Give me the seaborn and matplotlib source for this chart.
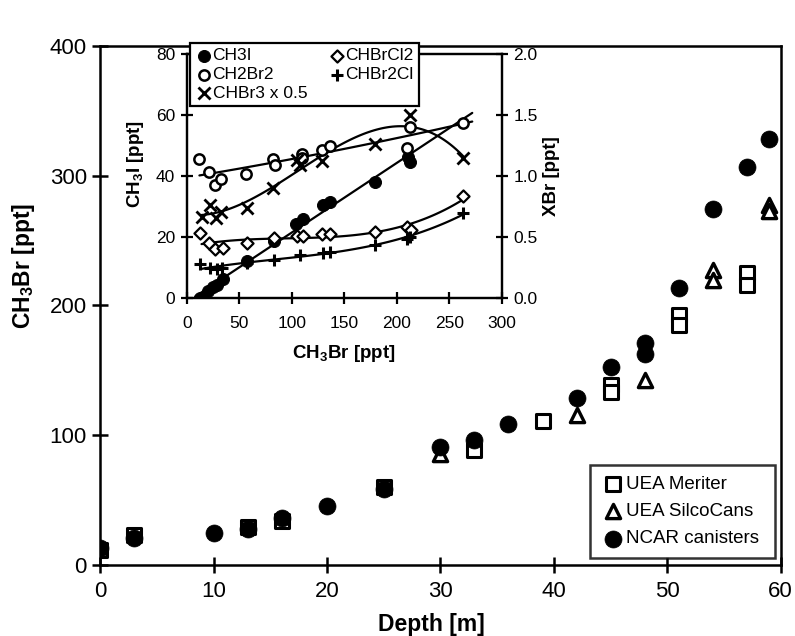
import numpy as np
import pandas as pd
import matplotlib
matplotlib.use('Agg')
import matplotlib.pyplot as plt
import seaborn as sns

# ==================== data: main panel (CH3Br vs depth) ====================
meriter_depth = [0, 3, 13, 16, 25, 33, 39, 45, 45, 51, 51, 57, 57]
meriter_ch3br = [11.6, 23.1, 29.3, 33.9, 60.1, 88.6, 111, 138.7, 133.3, 192.7, 185, 225, 215.8]

silco_depth = [30, 42, 48, 54, 54, 59, 59]
silco_ch3br = [85.5, 115.6, 142.6, 227.4, 219.7, 277, 273]

ncar_depth = [0, 3, 10, 13, 16, 20, 25, 30, 33, 36, 42, 45, 48, 48, 51, 54, 57, 59]
ncar_ch3br = [13.1, 20.8, 24.7, 27.7, 36.2, 45.5, 58.6, 90.9, 96.3, 108.7, 128.7,
              152.6, 171.1, 162.6, 213.5, 274.4, 306.7, 328]

# ==================== data: inset (vs CH3Br) ====================
ch3i_x = [12.7, 20.6, 25.3, 28.6, 34.3, 57, 83, 103.8, 111, 130, 136.5, 179.3, 211, 212.7]
ch3i_y = [0.0, 2.3, 3.4, 4.2, 6.0, 12.1, 18.6, 24.2, 25.7, 30.4, 31.3, 38.0, 46.2, 44.6]

# XBr series in ppt (right axis, 0-2)
ch2br2_x = [12, 21.5, 27, 33, 56.5, 82, 84, 109.5, 110, 128.6, 136.5, 209.5, 212.7, 263.5]
ch2br2_y = [1.135, 1.033, 0.925, 0.978, 1.015, 1.135, 1.088, 1.183, 1.143, 1.215, 1.243,
            1.225, 1.403, 1.430]

chbr3_x = [14.3, 22.2, 28, 32.7, 57, 82.5, 104.8, 108, 128.6, 179.3, 212.7, 263.5]
chbr3_y = [0.665, 0.760, 0.650, 0.705, 0.740, 0.898, 1.128, 1.088, 1.123, 1.265, 1.498, 1.143]

chbrcl2_x = [12.7, 21.5, 27, 34.3, 57, 83, 104.7, 110.5, 129, 136.5, 179.3, 210, 213.6, 263.5]
chbrcl2_y = [0.528, 0.450, 0.398, 0.405, 0.450, 0.488, 0.505, 0.505, 0.523, 0.523, 0.540,
             0.583, 0.555, 0.833]

chbr2cl_x = [12.7, 22.2, 28.6, 33.3, 57, 83, 108, 130, 136.5, 179.3, 210, 212.7, 263.5]
chbr2cl_y = [0.273, 0.240, 0.235, 0.240, 0.283, 0.310, 0.350, 0.370, 0.378, 0.433, 0.483,
             0.500, 0.693]

# ==================== style ====================
sns.set_style('ticks')
plt.rcParams['font.family'] = ['Liberation Sans', 'DejaVu Sans']
plt.rcParams['mathtext.fontset'] = 'custom'
plt.rcParams['mathtext.rm'] = 'Liberation Sans:bold'
plt.rcParams['mathtext.it'] = 'Liberation Sans:bold'
plt.rcParams['mathtext.bf'] = 'Liberation Sans:bold'
plt.rcParams['mathtext.default'] = 'rm'
plt.rcParams['axes.linewidth'] = 1.8
for k in ['text.color', 'axes.labelcolor', 'xtick.color', 'ytick.color', 'axes.edgecolor']:
    plt.rcParams[k] = 'black'

fig = plt.figure(figsize=(7.95, 6.36), dpi=100)
ax = fig.add_axes([0.126, 0.112, 0.856, 0.816])

main = pd.DataFrame({
    'depth': meriter_depth + silco_depth + ncar_depth,
    'ch3br': meriter_ch3br + silco_ch3br + ncar_ch3br,
    'source': ['UEA Meriter'] * len(meriter_depth) + ['UEA SilcoCans'] * len(silco_depth)
              + ['NCAR canisters'] * len(ncar_depth),
})

sns.scatterplot(data=main[main.source == 'UEA Meriter'], x='depth', y='ch3br', ax=ax,
                marker='s', s=95, facecolor='white', edgecolor='black', linewidth=2.2,
                label='UEA Meriter', zorder=3)
sns.scatterplot(data=main[main.source == 'UEA SilcoCans'], x='depth', y='ch3br', ax=ax,
                marker='^', s=105, facecolor='white', edgecolor='black', linewidth=2.4,
                label='UEA SilcoCans', zorder=3)
sns.scatterplot(data=main[main.source == 'NCAR canisters'], x='depth', y='ch3br', ax=ax,
                marker='o', s=150, color='black', edgecolor='black', linewidth=0.5,
                label='NCAR canisters', zorder=4)

ax.set_xlim(0, 60)
ax.set_ylim(0, 400)
ax.set_xticks(range(0, 61, 10))
ax.set_yticks(range(0, 401, 100))
ax.tick_params(direction='inout', length=12, width=1.8, labelsize=16)
ax.tick_params(axis='x', pad=6)
ax.set_xlabel('Depth [m]', fontsize=16.5, fontweight='bold')
ax.set_ylabel(r'CH$_3$Br [ppt]', fontsize=16.5, fontweight='bold')
ax.xaxis.set_label_coords(0.486, -0.093)
ax.yaxis.set_label_coords(-0.093, 0.575)
ax.grid(False)
for sp in ax.spines.values():
    sp.set_visible(True)

leg = ax.legend(loc='lower left', bbox_to_anchor=(0.7195, 0.0135, 0.2717, 0.18),
                mode='expand', fontsize=13.5,
                frameon=True, fancybox=False, edgecolor='black', borderpad=0.55,
                labelspacing=0.55, handletextpad=0.0, handlelength=1.4, borderaxespad=0)
leg.get_frame().set_linewidth(1.8)

# ==================== inset ====================
ins = fig.add_axes([0.235, 0.532, 0.396, 0.383])
ins.set_facecolor('white')
ins2 = ins.twinx()

# fitted lines
fits = [
    (ch3i_x, ch3i_y, 1, ins, 8, 272),
    (ch2br2_x, ch2br2_y, 2, ins2, 12, 272),
    (chbr3_x, chbr3_y, 3, ins2, 14, 264),
    (chbrcl2_x, chbrcl2_y, 3, ins2, 14, 264),
    (chbr2cl_x, chbr2cl_y, 3, ins2, 14, 264),
]
for fx, fy, deg, a, x0, x1 in fits:
    coef = np.polyfit(fx, fy, deg)
    xs = np.linspace(x0, x1, 100)
    sns.lineplot(x=xs, y=np.polyval(coef, xs), ax=a, color='black', linewidth=1.6,
                 estimator=None, sort=False, legend=False)

sns.scatterplot(x=ch3i_x, y=ch3i_y, ax=ins, marker='o', s=75, color='black',
                edgecolor='black', label='CH3I', zorder=4)
sns.scatterplot(x=ch2br2_x, y=ch2br2_y, ax=ins2, marker='o', s=55, facecolor='white',
                edgecolor='black', linewidth=1.8, label='CH2Br2', zorder=4)
sns.scatterplot(x=chbr3_x, y=chbr3_y, ax=ins2, marker='x', s=75, color='black',
                linewidth=2.0, label='CHBr3 x 0.5', zorder=4)
sns.scatterplot(x=chbrcl2_x, y=chbrcl2_y, ax=ins2, marker='D', s=38, facecolor='white',
                edgecolor='black', linewidth=1.6, label='CHBrCl2', zorder=4)
sns.scatterplot(x=chbr2cl_x, y=chbr2cl_y, ax=ins2, marker='+', s=75, color='black',
                linewidth=2.2, label='CHBr2Cl', zorder=4)

ins.set_xlim(0, 300)
ins.set_ylim(0, 80)
ins2.set_ylim(0, 2.0)
ins.set_xticks(range(0, 301, 50))
ins.set_yticks(range(0, 81, 20))
ins2.set_yticks([0.0, 0.5, 1.0, 1.5, 2.0])
ins2.set_yticklabels(['0.0', '0.5', '1.0', '1.5', '2.0'])
for a in (ins, ins2):
    a.tick_params(direction='inout', length=9, width=1.6, labelsize=12.5, pad=4)
    for sp in a.spines.values():
        sp.set_linewidth(1.6)
        sp.set_visible(True)
ins.tick_params(axis='x', pad=9)
ins.set_xlabel(r'CH$_3$Br [ppt]', fontsize=13.5, fontweight='bold', labelpad=8)
ins.set_ylabel(r'CH$_3$I [ppt]', fontsize=13.5, fontweight='bold', labelpad=2)
ins2.set_ylabel('XBr [ppt]', fontsize=13.5, fontweight='bold', labelpad=4)
ins.yaxis.set_label_coords(-0.13, 0.55)

h1, l1 = ins.get_legend_handles_labels()
h2, l2 = ins2.get_legend_handles_labels()
if ins.get_legend():
    ins.get_legend().remove()
if ins2.get_legend():
    ins2.get_legend().remove()
ileg = ins2.legend(h1 + h2, l1 + l2, ncol=2, loc='upper left', bbox_to_anchor=(0.01, 1.045),
                   fontsize=12.5, frameon=True, fancybox=False, edgecolor='black',
                   framealpha=1, borderpad=0.3, labelspacing=0.2, handletextpad=0.0,
                   handlelength=1.0, columnspacing=1.2, borderaxespad=0)
ileg.get_frame().set_linewidth(1.6)
ileg.set_zorder(10)

fig.savefig('out.png', dpi=100)
